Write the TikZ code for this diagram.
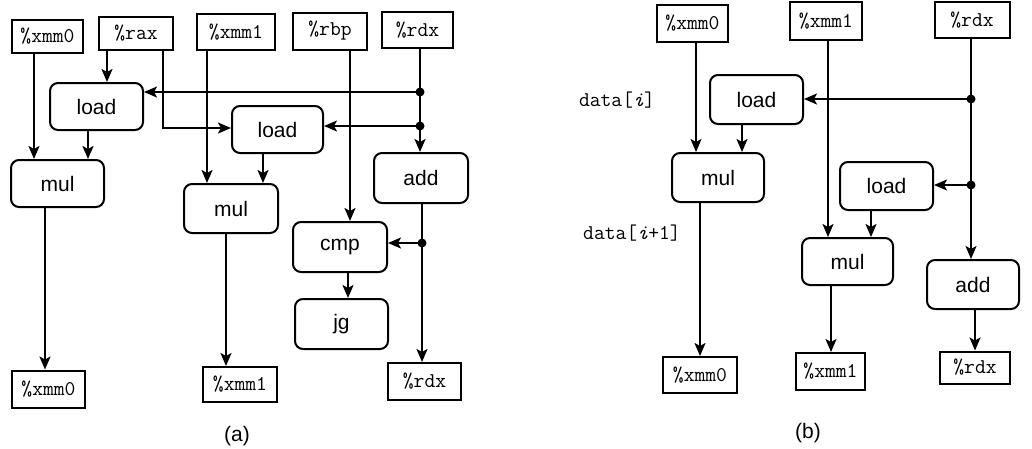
\documentclass[tikz,border=0pt]{standalone}
\usepackage{fontspec}
\setmainfont{Liberation Sans}
\usetikzlibrary{arrows.meta,calc}
\begin{document}
\begin{tikzpicture}[x=1pt,y=-1pt,
  sz/.style 2 args={minimum width=#1pt,minimum height=#2pt},
  reg/.style={draw,line width=2pt,inner sep=0pt,font=\fontsize{21}{25}\selectfont\ttfamily},
  op/.style={draw,line width=2pt,rounded corners=8pt,inner sep=0pt,font=\fontsize{21}{25}\selectfont},
  arr/.style={line width=2pt,-{Stealth[length=13pt,width=11pt,inset=3pt]}},
  dot/.style={circle,fill,inner sep=0pt,minimum size=9pt},
  ttl/.style={font=\fontsize{21}{25}\selectfont\ttfamily},
  figlabel/.style={font=\fontsize{21}{25}\selectfont}]
\useasboundingbox (0,0) rectangle (1032,448);
\fill[white] (0,0) rectangle (1032,448);
% ---------- (a) ----------
\node[reg,sz={71}{33}] (rx0t) at (47.5,36.5) {\%xmm0};
\node[reg,sz={74}{33}] (rax)  at (136,33.5) {\%rax};
\node[reg,sz={78}{36}] (rx1t) at (236,32) {\%xmm1};
\node[reg,sz={74}{37}] (rbp)  at (330,31) {\%rbp};
\node[reg,sz={71}{36}] (rdxt) at (417.5,30) {\%rdx};
\node[op,sz={93}{47}] (load1) at (96.5,106.5) {load};
\node[op,sz={93}{47}] (mul1)  at (57.5,183.5) {mul};
\node[op,sz={91}{47}] (load2) at (277.5,129.5) {load};
\node[op,sz={94}{49}] (mul2)  at (231,208.5) {mul};
\node[op,sz={94}{50}] (add)   at (421,178) {add};
\node[op,sz={94}{50}] (cmp)   at (340,247) {cmp};
\node[op,sz={93}{50}] (jg)    at (341.5,324) {jg};
\node[reg,sz={73}{37}] (rx0b) at (48.5,389) {\%xmm0};
\node[reg,sz={74}{35}] (rx1b) at (240,384.5) {\%xmm1};
\node[reg,sz={73}{37}] (rdxb) at (424.5,381.5) {\%rdx};
\node[figlabel] (capa) at (237,436) {(a)};
\coordinate (cA) at (34,0);
\coordinate (cB) at (107,0);
\coordinate (rr) at (163,128);
\coordinate (cC) at (88,0);
\coordinate (cD) at (207,0);
\coordinate (cE) at (263,0);
\coordinate (cF) at (45,0);
\coordinate (cG) at (226,0);
\coordinate (cH) at (350,0);
\coordinate (cI) at (348,0);
\node[dot] (d1) at (420,92) {};
\node[dot] (d2) at (420,126) {};
\node[dot] (d3) at (422,243) {};
\draw[arr] (rx0t.south -| cA) -- (mul1.north -| cA);
\draw[arr] (rax.south -| cB) -- (load1.north -| cB);
\draw[arr] (rax.south -| rr) -- (rr) -- (rr -| load2.west);
\draw[arr] (load1.south -| cC) -- (mul1.north -| cC);
\draw[arr] (rx1t.south -| cD) -- (mul2.north -| cD);
\draw[arr] (load2.south -| cE) -- (mul2.north -| cE);
\draw[arr] (mul1.south -| cF) -- (rx0b.north -| cF);
\draw[arr] (mul2.south -| cG) -- (rx1b.north -| cG);
\draw[arr] (rbp.south -| cH) -- (cmp.north -| cH);
\draw[arr] (rdxt.south -| d1) -- (add.north -| d1);
\draw[arr] (d1.center) -- (d1 -| load1.east);
\draw[arr] (d2.center) -- (d2 -| load2.east);
\draw[arr] (add.south -| d3) -- (rdxb.north -| d3);
\draw[arr] (d3.center) -- (d3 -| cmp.east);
\draw[arr] (cmp.south -| cI) -- (jg.north -| cI);
% ---------- (b) ----------
\node[reg,sz={71}{37}] (bx0t) at (692.5,23.5) {\%xmm0};
\node[reg,sz={72}{38}] (bx1t) at (826,21) {\%xmm1};
\node[reg,sz={75}{36}] (brdxt) at (972,20) {\%rdx};
\node[ttl] (di) at (617,100) {data[{\itshape i}]};
\node[ttl] (di1) at (632,233) {data[{\itshape i}+1]};
\node[op,sz={93}{49}] (bload1) at (756.5,99.5) {load};
\node[op,sz={92}{49}] (bmul1)  at (718,177.5) {mul};
\node[op,sz={93}{48}] (bload2) at (886.5,186) {load};
\node[op,sz={91}{47}] (bmul2)  at (847.5,261.5) {mul};
\node[op,sz={92}{49}] (badd)   at (973,284.5) {add};
\node[reg,sz={74}{36}] (bx0b) at (700,375) {\%xmm0};
\node[reg,sz={69}{37}] (bx1b) at (830.5,371.5) {\%xmm1};
\node[reg,sz={70}{32}] (brdxb) at (975,367.5) {\%rdx};
\node[figlabel] (capb) at (808,433) {(b)};
\coordinate (bA) at (696,0);
\coordinate (bB) at (742,0);
\coordinate (bC) at (828,0);
\coordinate (bE) at (871,0);
\coordinate (bF) at (700,0);
\coordinate (bG) at (831,0);
\coordinate (bH) at (975,0);
\node[dot] (bd1) at (971,99) {};
\node[dot] (bd2) at (971,185) {};
\draw[arr] (bx0t.south -| bA) -- (bmul1.north -| bA);
\draw[arr] (bload1.south -| bB) -- (bmul1.north -| bB);
\draw[arr] (bx1t.south -| bC) -- (bmul2.north -| bC);
\draw[arr] (bload2.south -| bE) -- (bmul2.north -| bE);
\draw[arr] (bmul1.south -| bF) -- (bx0b.north -| bF);
\draw[arr] (bmul2.south -| bG) -- (bx1b.north -| bG);
\draw[arr] (brdxt.south -| bd1) -- (badd.north -| bd1);
\draw[arr] (bd1.center) -- (bd1 -| bload1.east);
\draw[arr] (bd2.center) -- (bd2 -| bload2.east);
\draw[arr] (badd.south -| bH) -- (brdxb.north -| bH);
\end{tikzpicture}
\end{document}
